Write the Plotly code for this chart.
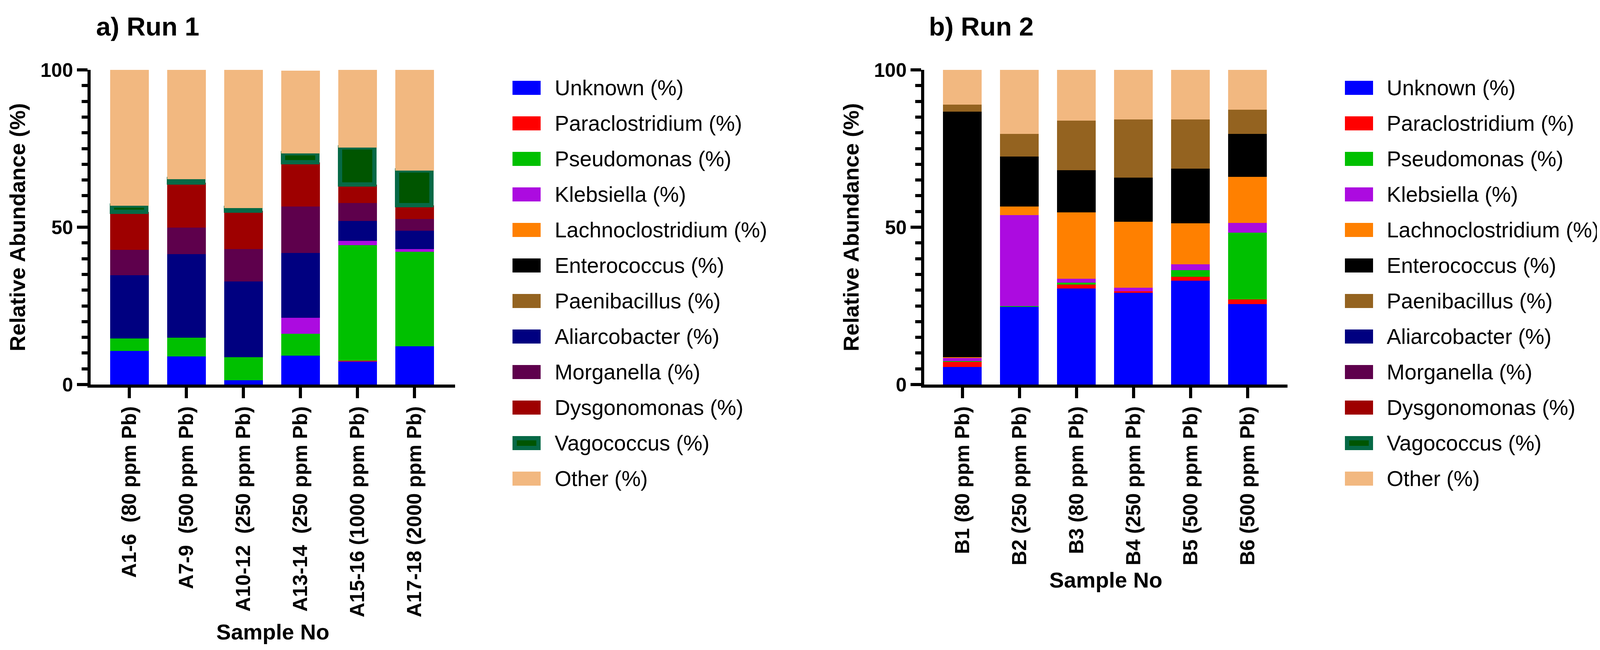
import plotly.graph_objects as go

W, H = 4117, 1665
FONT = "Arial, Liberation Sans, sans-serif"

# taxa, bottom of the stack first
taxa = ["Unknown (%)", "Paraclostridium (%)", "Pseudomonas (%)", "Klebsiella (%)",
        "Lachnoclostridium (%)", "Enterococcus (%)", "Paenibacillus (%)",
        "Aliarcobacter (%)", "Morganella (%)", "Dysgonomonas (%)",
        "Vagococcus (%)", "Other (%)"]
taxa_colors = ["#0000FF", "#FF0000", "#00C000", "#AC0BE0", "#FF8000", "#000000",
               "#946320", "#000080", "#5E004C", "#9E0000", "#005500", "#F2B880"]
vago_border = "#066946"

# Run 1
run1_samples = ["A1-6\u00a0 (80 ppm Pb)", "A7-9\u00a0 (500 ppm Pb)", "A10-12\u00a0 (250 ppm Pb)",
                "A13-14\u00a0 (250 ppm Pb)", "A15-16 (1000 ppm Pb)", "A17-18 (2000 ppm Pb)"]
run1_unknown = [10.7, 8.9, 1.4, 9.2, 7.3, 12.1]
run1_paraclostridium = [0, 0, 0, 0, 0.3, 0]
run1_pseudomonas = [4.0, 6.0, 7.3, 6.9, 36.7, 30.1]
run1_klebsiella = [0, 0, 0, 5.1, 1.3, 0.9]
run1_lachnoclostridium = [0, 0, 0, 0, 0, 0]
run1_enterococcus = [0, 0, 0, 0, 0, 0]
run1_paenibacillus = [0, 0, 0, 0, 0, 0]
run1_aliarcobacter = [20.0, 26.6, 24.1, 20.6, 6.4, 5.8]
run1_morganella = [8.1, 8.4, 10.2, 14.8, 5.7, 3.7]
run1_dysgonomonas = [12.1, 14.2, 12.2, 14.0, 5.8, 4.3]
run1_vagococcus = [1.9, 1.1, 0.9, 2.9, 11.8, 11.1]
run1_other = [43.2, 34.8, 43.9, 26.2, 24.7, 32.0]

# Run 2
run2_samples = ["B1 (80 ppm Pb)", "B2 (250 ppm Pb)", "B3 (80 ppm Pb)",
                "B4 (250 ppm Pb)", "B5 (500 ppm Pb)", "B6 (500 ppm Pb)"]
run2_unknown = [5.6, 24.7, 30.5, 29.1, 33.0, 25.5]
run2_paraclostridium = [1.7, 0, 1.3, 0.5, 1.3, 1.5]
run2_pseudomonas = [0.2, 0.2, 0.6, 0, 2.1, 21.3]
run2_klebsiella = [1.0, 29.0, 1.2, 1.2, 1.8, 3.1]
run2_lachnoclostridium = [0.2, 2.7, 21.1, 20.9, 13.0, 14.6]
run2_enterococcus = [78.0, 15.8, 13.4, 14.1, 17.4, 13.7]
run2_paenibacillus = [2.2, 7.3, 15.8, 18.4, 15.6, 7.6]
run2_aliarcobacter = [0, 0, 0, 0, 0, 0]
run2_morganella = [0, 0, 0, 0, 0, 0]
run2_dysgonomonas = [0, 0, 0, 0, 0, 0]
run2_vagococcus = [0, 0, 0, 0, 0, 0]
run2_other = [11.1, 20.3, 16.1, 15.8, 15.8, 12.7]

run1 = [run1_unknown, run1_paraclostridium, run1_pseudomonas, run1_klebsiella,
        run1_lachnoclostridium, run1_enterococcus, run1_paenibacillus,
        run1_aliarcobacter, run1_morganella, run1_dysgonomonas,
        run1_vagococcus, run1_other]
run2 = [run2_unknown, run2_paraclostridium, run2_pseudomonas, run2_klebsiella,
        run2_lachnoclostridium, run2_enterococcus, run2_paenibacillus,
        run2_aliarcobacter, run2_morganella, run2_dysgonomonas,
        run2_vagococcus, run2_other]

BAR_W = 0.68
VAGO_LW = 11

fig = go.Figure()

for name, color, v1, v2 in zip(taxa, taxa_colors, run1, run2):
    for xa, ya, samples, vals in (("x", "y", run1_samples, v1), ("x2", "y2", run2_samples, v2)):
        # Vagococcus is drawn as a framed block; narrow it so the frame stays inside the column
        if name.startswith("Vagococcus"):
            lw = [VAGO_LW if v > 0 else 0 for v in vals]
            bw = BAR_W - VAGO_LW / 146
        else:
            lw = 0
            bw = BAR_W
        fig.add_trace(go.Bar(
            x=samples, y=vals, name=name, xaxis=xa, yaxis=ya, width=bw,
            marker=dict(color=color, line=dict(color=vago_border, width=lw)),
            showlegend=False,
        ))


def px_x(p):
    return p / W


def px_y(p):
    return 1 - p / H


axis_common = dict(
    showline=True, linecolor="black", linewidth=8,
    ticks="outside", ticklen=27, tickwidth=8, tickcolor="black",
    showgrid=False, zeroline=False, automargin=False,
)
tick_font = dict(family=FONT, size=52, color="black", weight="bold")
title_font = dict(family=FONT, size=56, color="black", weight="bold")


def x_axis(dom, rng, anchor):
    return dict(domain=dom, anchor=anchor, type="category", range=rng, tickangle=-90,
                tickfont=tick_font,
                title=dict(text="Sample No", font=title_font, standoff=22),
                **axis_common)


def y_axis(dom, anchor):
    return dict(domain=dom, anchor=anchor, range=[0, 100], tickvals=[0, 50, 100],
                tickfont=dict(family=FONT, size=50, color="black", weight="bold"),
                minor=dict(dtick=5, ticks="outside", ticklen=15, tickwidth=8, tickcolor="black"),
                title=dict(text="Relative Abundance (%)", font=title_font, standoff=24),
                **axis_common)


ydom = [px_y(977), px_y(171)]

fig.update_layout(
    width=W, height=H,
    margin=dict(l=0, r=0, t=0, b=0),
    paper_bgcolor="white", plot_bgcolor="white",
    barmode="stack", bargap=0,
    font=dict(family=FONT, color="black"),
    xaxis=x_axis([px_x(224), px_x(1157)], [-0.68, 5.71], "y"),
    yaxis=y_axis(ydom, "x"),
    xaxis2=x_axis([px_x(2358), px_x(3288)], [-0.67, 5.70], "y2"),
    yaxis2=y_axis(ydom, "x2"),
)

# panel titles
for text, xp in (("a) Run 1", 236), ("b) Run 2", 2368)):
    fig.add_annotation(text=text, x=px_x(xp), y=px_y(60), xref="paper", yref="paper",
                       xanchor="left", yanchor="middle", showarrow=False,
                       font=dict(family=FONT, size=67, color="black", weight="bold"))

# legends beside each panel
for sw_x, txt_x in ((1304, 1410), (3435, 3540)):
    for i, (name, color) in enumerate(zip(taxa, taxa_colors)):
        yc = 217 + 91 * i
        if name.startswith("Vagococcus"):
            fig.add_shape(type="rect", xref="paper", yref="paper",
                          x0=px_x(sw_x + 5.5), x1=px_x(sw_x + 66.5),
                          y0=px_y(yc + 12.5), y1=px_y(yc - 12.5),
                          fillcolor=color, line=dict(color=vago_border, width=11))
        else:
            fig.add_shape(type="rect", xref="paper", yref="paper",
                          x0=px_x(sw_x), x1=px_x(sw_x + 72),
                          y0=px_y(yc + 18), y1=px_y(yc - 18),
                          fillcolor=color, line=dict(width=0))
        fig.add_annotation(text=name, x=px_x(txt_x), y=px_y(yc), xref="paper", yref="paper",
                           xanchor="left", yanchor="middle", showarrow=False,
                           font=dict(family=FONT, size=55, color="black"))

fig.write_html("out.html")
